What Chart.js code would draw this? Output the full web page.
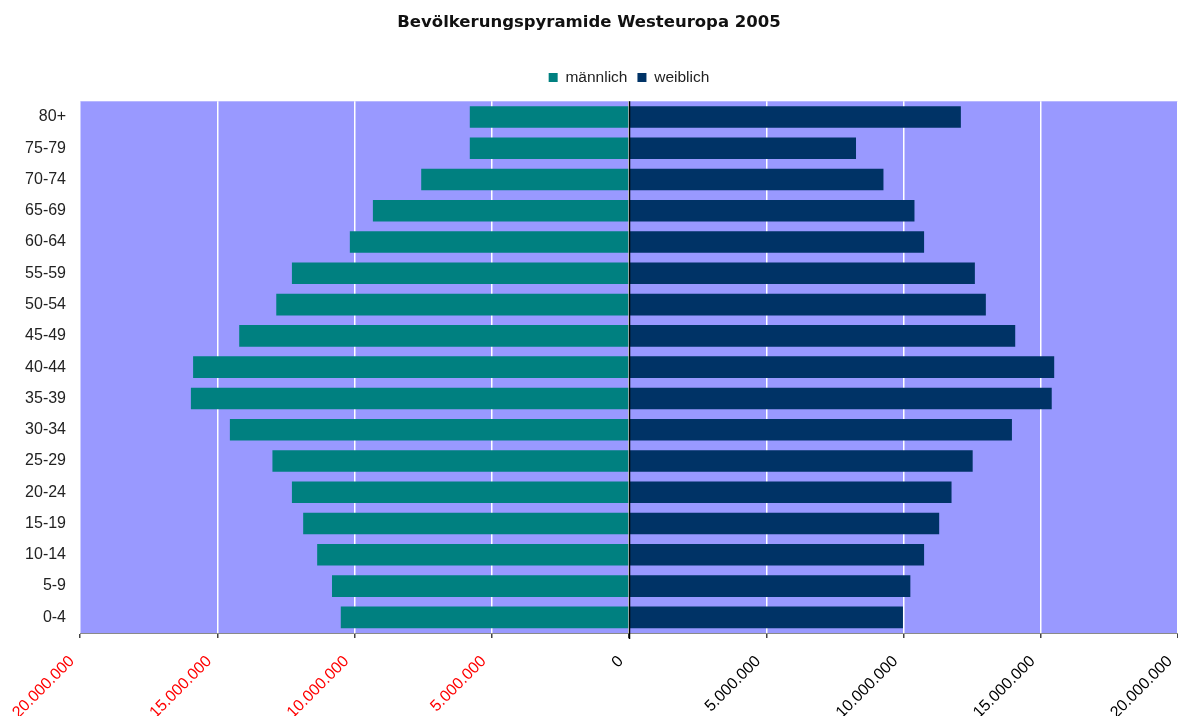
<!DOCTYPE html>
<html>
<head>
<meta charset="utf-8">
<script src="https://cdn.jsdelivr.net/npm/chart.js@4.4.1/dist/chart.umd.min.js"></script>
<style>
  html, body { margin: 0; padding: 0; background: #fff; overflow: hidden; }
  #wrap { width: 1178px; height: 716px; }
</style>
</head>
<body>
<div id="wrap"><canvas id="chartPyramid" width="1178" height="716"></canvas></div>
<script>
// age groups, bottom to top
const ageGroups = ['0-4', '5-9', '10-14', '15-19', '20-24', '25-29', '30-34', '35-39', '40-44',
                   '45-49', '50-54', '55-59', '60-64', '65-69', '70-74', '75-79', '80+'];
const maleValues   = [10500000, 10820000, 11360000, 11870000, 12280000, 12990000, 14540000, 15960000, 15880000,
                      14200000, 12850000, 12280000, 10170000, 9330000, 7570000, 5800000, 5800000];
const femaleValues = [9980000, 10250000, 10750000, 11300000, 11750000, 12520000, 13950000, 15400000, 15490000,
                      14070000, 13000000, 12600000, 10750000, 10400000, 9270000, 8270000, 12090000];
const axisMin = -20000000, axisMax = 20000000, axisStep = 5000000;

const FONT = "'Liberation Sans', Arial, sans-serif";
const fmtTick = v => Math.abs(v).toString().replace(/\B(?=(\d{3})+(?!\d))/g, '.');

const plotBg = {
  id: 'plotBg',
  beforeDraw(chart) {
    const { ctx, chartArea: a } = chart;
    ctx.save();
    ctx.fillStyle = '#9999ff';
    ctx.fillRect(a.left, a.top, a.right - a.left, a.bottom - a.top);
    ctx.restore();
  }
};

const zeroLine = {
  id: 'zeroLine',
  afterDatasetsDraw(chart) {
    const { ctx, chartArea: a, scales } = chart;
    const x = Math.round(scales.x.getPixelForValue(0)) + 0.5;
    ctx.save();
    ctx.strokeStyle = '#000';
    ctx.lineWidth = 1.5;
    ctx.beginPath();
    ctx.moveTo(x, a.top);
    ctx.lineTo(x, a.bottom + 6);
    ctx.stroke();
    ctx.restore();
  }
};

// small empty box between legend and plot
const legendGap = {
  id: 'legendGap',
  beforeInit(chart) {
    Chart.layouts.addBox(chart, {
      position: 'top', weight: 500, fullSize: false, options: {},
      isHorizontal: () => true,
      update(maxWidth) { this.width = maxWidth; this.height = 6; },
      draw() {}
    });
  }
};

new Chart(document.getElementById('chartPyramid'), {
  type: 'bar',
  data: {
    labels: ageGroups,
    datasets: [
      { label: 'männlich', data: maleValues.map(v => -v), backgroundColor: '#008080', borderWidth: 0 },
      { label: 'weiblich', data: femaleValues, backgroundColor: '#003366', borderWidth: 0 }
    ]
  },
  options: {
    indexAxis: 'y',
    responsive: false,
    devicePixelRatio: 1,
    animation: false,
    barPercentage: 0.69,
    categoryPercentage: 1,
    plugins: {
      title: {
        display: true,
        text: 'Bevölkerungspyramide Westeuropa 2005',
        color: '#111',
        font: { family: "'DejaVu Sans', sans-serif", size: 16.5, weight: 'bold' },
        padding: { top: 13, bottom: 27 }
      },
      legend: {
        position: 'top',
        fullSize: false,
        labels: { boxWidth: 9, boxHeight: 9, padding: 10, color: '#222', font: { family: FONT, size: 15.5 } }
      },
      tooltip: { enabled: false }
    },
    scales: {
      x: {
        stacked: true,
        min: axisMin, max: axisMax,
        afterFit: s => { s.height = 83; s.paddingRight = 0; },
        border: { display: true, color: '#8a8a8a', width: 1 },
        grid: { color: '#ffffff', lineWidth: 1.5, tickLength: 5, tickColor: '#444', drawTicks: true },
        ticks: {
          stepSize: axisStep,
          autoSkip: false,
          minRotation: 45, maxRotation: 45,
          padding: 14,
          labelOffset: -8,
          color: c => c.tick.value < 0 ? '#ff0000' : '#000',
          font: { family: FONT, size: 16 },
          callback: v => fmtTick(v)
        }
      },
      y: {
        stacked: true,
        reverse: true,
        afterFit: s => { s.width = 80; },
        border: { display: false },
        grid: { display: false, drawTicks: false },
        ticks: { padding: 14, color: '#222', font: { family: FONT, size: 16 } }
      }
    }
  },
  plugins: [plotBg, zeroLine, legendGap]
});
</script>
</body>
</html>
